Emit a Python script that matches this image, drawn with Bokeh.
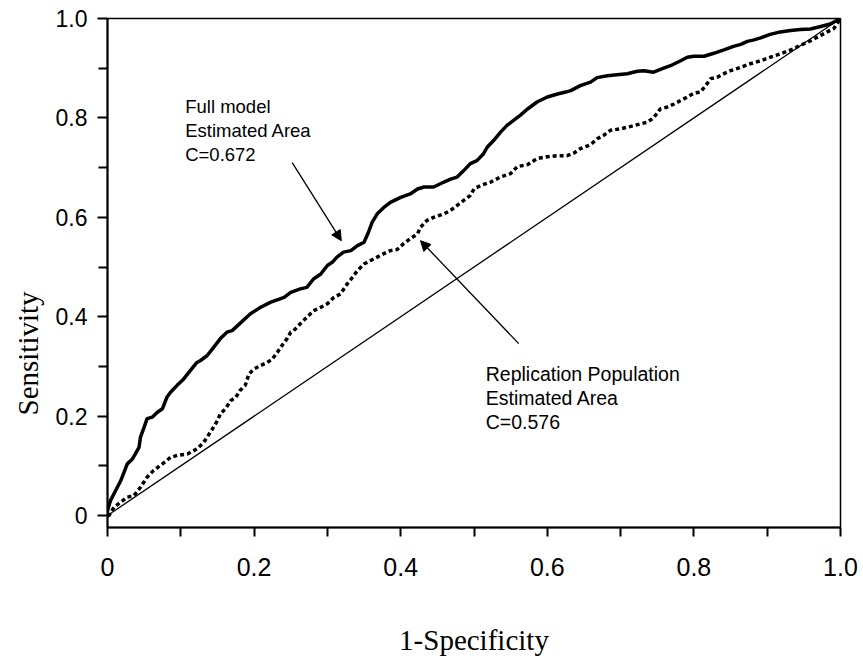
import math
from bokeh.plotting import figure
from bokeh.models import Range1d, FixedTicker, Label, Arrow, NormalHead, Title
from bokeh.embed import file_html
from bokeh.resources import INLINE

# ---- data ----
full_fpr = [0.0, 0.0, 0.004, 0.011, 0.018, 0.027, 0.034, 0.038, 0.043, 0.045, 0.050, 0.054,
            0.061, 0.068, 0.075, 0.081, 0.086, 0.095, 0.104, 0.111, 0.122, 0.127, 0.136,
            0.145, 0.154, 0.163, 0.170, 0.195, 0.209, 0.222, 0.241, 0.250, 0.263, 0.272,
            0.281, 0.291, 0.300, 0.307, 0.313, 0.322, 0.332, 0.341, 0.350, 0.356, 0.361,
            0.368, 0.377, 0.386, 0.400, 0.413, 0.423, 0.432, 0.445, 0.459, 0.468, 0.477,
            0.486, 0.495, 0.504, 0.513, 0.518, 0.527, 0.536, 0.545, 0.554, 0.563, 0.573,
            0.586, 0.600, 0.614, 0.625, 0.632, 0.645, 0.659, 0.668, 0.682, 0.695, 0.709,
            0.723, 0.732, 0.745, 0.757, 0.768, 0.782, 0.791, 0.800, 0.814, 0.827, 0.841,
            0.854, 0.864, 0.873, 0.882, 0.891, 0.904, 0.918, 0.932, 0.945, 0.959, 0.973,
            0.986, 1.0]
full_tpr = [0.0, 0.010, 0.030, 0.050, 0.070, 0.104, 0.114, 0.124, 0.137, 0.158, 0.178, 0.195,
            0.198, 0.208, 0.215, 0.238, 0.248, 0.262, 0.275, 0.288, 0.308, 0.312, 0.322,
            0.339, 0.356, 0.369, 0.372, 0.406, 0.419, 0.429, 0.439, 0.449, 0.456, 0.459,
            0.476, 0.486, 0.503, 0.510, 0.520, 0.530, 0.533, 0.543, 0.550, 0.570, 0.590,
            0.607, 0.620, 0.630, 0.640, 0.647, 0.657, 0.661, 0.661, 0.671, 0.677, 0.681,
            0.694, 0.708, 0.714, 0.728, 0.741, 0.755, 0.771, 0.785, 0.795, 0.805, 0.818,
            0.832, 0.842, 0.848, 0.852, 0.855, 0.865, 0.872, 0.881, 0.885, 0.887, 0.889,
            0.894, 0.895, 0.892, 0.899, 0.905, 0.915, 0.922, 0.924, 0.924, 0.930, 0.937,
            0.944, 0.948, 0.954, 0.957, 0.961, 0.968, 0.973, 0.976, 0.978, 0.979, 0.984,
            0.989, 1.0]

rep_fpr = [0.0, 0.002, 0.009, 0.018, 0.027, 0.036, 0.045, 0.054, 0.063, 0.075, 0.086, 0.095,
           0.109, 0.122, 0.131, 0.136, 0.143, 0.150, 0.154, 0.161, 0.168, 0.175, 0.181,
           0.188, 0.193, 0.200, 0.209, 0.218, 0.225, 0.232, 0.238, 0.245, 0.250, 0.254,
           0.263, 0.272, 0.281, 0.291, 0.300, 0.309, 0.318, 0.327, 0.334, 0.341, 0.350,
           0.359, 0.368, 0.377, 0.386, 0.395, 0.404, 0.413, 0.423, 0.427, 0.436, 0.445,
           0.459, 0.468, 0.477, 0.486, 0.495, 0.500, 0.509, 0.523, 0.536, 0.550, 0.559,
           0.573, 0.586, 0.600, 0.614, 0.627, 0.636, 0.645, 0.659, 0.668, 0.677, 0.686,
           0.700, 0.714, 0.727, 0.736, 0.745, 0.754, 0.764, 0.773, 0.782, 0.791, 0.800,
           0.809, 0.816, 0.823, 0.832, 0.841, 0.850, 0.864, 0.877, 0.891, 0.904, 0.918,
           0.927, 0.936, 0.945, 0.955, 0.964, 0.973, 0.982, 0.991, 1.0]
rep_tpr = [0.0, 0.0, 0.017, 0.027, 0.037, 0.040, 0.057, 0.077, 0.091, 0.104, 0.117, 0.121,
           0.124, 0.134, 0.147, 0.158, 0.174, 0.191, 0.205, 0.215, 0.231, 0.238, 0.252,
           0.262, 0.285, 0.295, 0.302, 0.308, 0.315, 0.329, 0.342, 0.356, 0.369, 0.372,
           0.386, 0.399, 0.412, 0.419, 0.426, 0.439, 0.446, 0.466, 0.479, 0.493, 0.506,
           0.513, 0.520, 0.527, 0.533, 0.535, 0.547, 0.557, 0.567, 0.580, 0.594, 0.600,
           0.607, 0.614, 0.624, 0.634, 0.644, 0.657, 0.664, 0.671, 0.681, 0.688, 0.702,
           0.706, 0.718, 0.722, 0.724, 0.724, 0.729, 0.738, 0.746, 0.758, 0.765, 0.775,
           0.778, 0.783, 0.788, 0.791, 0.800, 0.818, 0.822, 0.828, 0.835, 0.842, 0.850,
           0.852, 0.865, 0.879, 0.882, 0.889, 0.895, 0.902, 0.909, 0.915, 0.922, 0.929,
           0.934, 0.939, 0.946, 0.952, 0.959, 0.966, 0.973, 0.980, 1.0]

chance_x = [0.0, 1.0]
chance_y = [0.0, 1.0]

x_ticks = [0.0, 0.2, 0.4, 0.6, 0.8, 1.0]
x_tick_labels = ["0", "0.2", "0.4", "0.6", "0.8", "1.0"]
x_minor = [0.1, 0.3, 0.5, 0.7, 0.9]
y_ticks = [0.0, 0.2, 0.4, 0.6, 0.8, 1.0]
y_tick_labels = ["0", "0.2", "0.4", "0.6", "0.8", "1.0"]
y_minor = [0.1, 0.3, 0.5, 0.7, 0.9]

full_note = ["Full model", "Estimated Area", "C=0.672"]
rep_note = ["Replication Population", "Estimated Area", "C=0.576"]

# ---- figure ----
p = figure(width=863, height=659, output_backend="svg", toolbar_location=None,
           x_range=Range1d(0.0, 1.0), y_range=Range1d(-0.024, 1.0),
           min_border_left=107, min_border_right=23, min_border_top=18,
           min_border_bottom=132)
p.xgrid.visible = False
p.ygrid.visible = False
p.outline_line_color = "black"
p.outline_line_width = 1.5
p.background_fill_color = "white"
p.border_fill_color = "white"

for ax in (p.xaxis[0], p.yaxis[0]):
    ax.axis_line_width = 2
    ax.axis_line_color = "black"
    ax.major_tick_line_width = 2
    ax.minor_tick_line_width = 2
    ax.major_tick_line_color = "black"
    ax.minor_tick_line_color = "black"
    ax.major_tick_in = 0
    ax.minor_tick_in = 0
    ax.major_label_text_font = "Liberation Sans"
    ax.major_label_text_color = "black"

p.xaxis.ticker = FixedTicker(ticks=x_ticks, minor_ticks=x_minor)
p.xaxis.major_label_overrides = dict(zip(x_ticks, x_tick_labels))
p.xaxis.major_tick_out = 9
p.xaxis.minor_tick_out = 9
p.xaxis.major_label_text_font_size = "25px"
p.xaxis.major_label_standoff = 21
p.xaxis.axis_label = "1-Specificity"
p.xaxis.axis_label_text_font = "Liberation Serif"
p.xaxis.axis_label_text_font_style = "normal"
p.xaxis.axis_label_text_font_size = "29px"
p.xaxis.axis_label_text_color = "black"
p.xaxis.axis_label_standoff = 45

p.yaxis.ticker = FixedTicker(ticks=y_ticks, minor_ticks=y_minor)
p.yaxis.major_label_overrides = dict(zip(y_ticks, y_tick_labels))
p.yaxis.major_tick_out = 10
p.yaxis.minor_tick_out = 9
p.yaxis.major_label_text_font_size = "23px"
p.yaxis.major_label_standoff = 10
p.yaxis.major_label_orientation = "horizontal"

# y-axis title as a side title so it can be shifted along the axis
p.add_layout(Title(text="Sensitivity", align="left", offset=112, standoff=14,
                   vertical_align="top",
                   text_font="Liberation Serif", text_font_size="29px",
                   text_font_style="normal", text_color="black"), "left")

# ---- curves ----
p.line(chance_x, chance_y, line_color="black", line_width=1.3)
p.line(rep_fpr, rep_tpr, line_color="black", line_width=3.5, line_dash="4 3")
p.line(full_fpr, full_tpr, line_color="black", line_width=3.5)

# ---- annotations ----
for txt, yy in zip(full_note, [0.823, 0.775, 0.726]):
    p.add_layout(Label(x=0.106, y=yy, text=txt, text_font="Liberation Sans",
                       text_font_size="18.5px", text_color="black",
                       text_baseline="alphabetic", text_align="left"))
for txt, yy in zip(rep_note, [0.284, 0.237, 0.189]):
    p.add_layout(Label(x=0.516, y=yy, text=txt, text_font="Liberation Sans",
                       text_font_size="19.5px", text_color="black",
                       text_baseline="alphabetic", text_align="left"))

p.add_layout(Arrow(x_start=0.252, y_start=0.710, x_end=0.319, y_end=0.553,
                   line_color="black", line_width=1.3,
                   end=NormalHead(size=10, fill_color="black", line_color="black", line_width=1)))
p.add_layout(Arrow(x_start=0.561, y_start=0.346, x_end=0.427, y_end=0.553,
                   line_color="black", line_width=1.3,
                   end=NormalHead(size=10, fill_color="black", line_color="black", line_width=1)))

open("out.html", "w").write(file_html(p, INLINE))
